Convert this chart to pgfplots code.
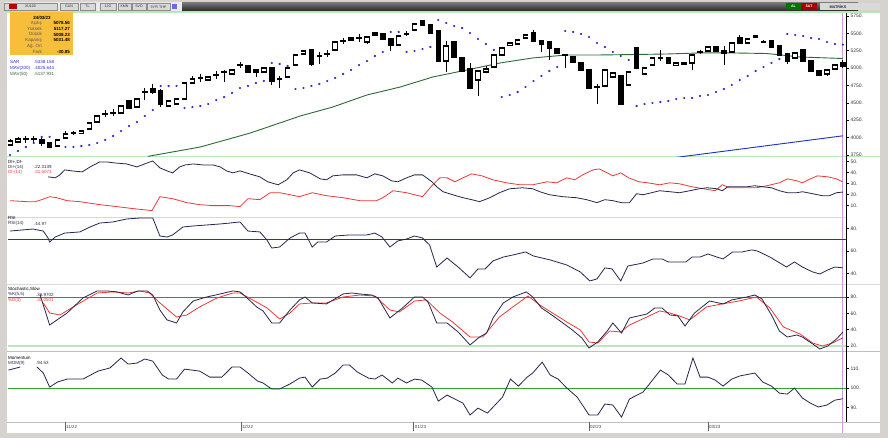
\documentclass[border=0pt]{standalone}
\usepackage{pgfplots}
\usepackage{pgfplotstable}
\pgfplotsset{compat=1.18}
\usepackage{fontspec}
\setmainfont{Liberation Sans}

\definecolor{navy}{HTML}{262650}
\definecolor{dired}{HTML}{E83A3A}
\definecolor{sarblue}{HTML}{2B2BD0}
\definecolor{magreen}{HTML}{2F6A35}
\definecolor{mablue}{HTML}{1F2FC8}
\definecolor{frame}{HTML}{D6D3CE}
\definecolor{sepgreen}{HTML}{BDE8BD}
\definecolor{cursor}{HTML}{C9A0DC}
\definecolor{infobox}{HTML}{F6BE3A}
\definecolor{lvlred}{HTML}{8C1C1C}
\definecolor{stred}{HTML}{C04848}
\definecolor{momgreen}{HTML}{35A035}

% daily candles, bar index 0..105 (24/03/23 = 105)
\pgfplotstableread{
i o h l c
0 3894 3980 3879 3951
1 3937 4009 3922 3980
2 3975 4023 3922 3985
3 3985 4023 3922 3975
4 3966 4009 3879 3922
5 3922 3937 3850 3865
6 3879 3980 3865 3966
7 3994 4095 3980 4052
8 4060 4095 4040 4070
9 4066 4109 4052 4095
10 4124 4225 4109 4210
11 4225 4325 4210 4311
12 4335 4397 4297 4345
13 4350 4411 4311 4358
14 4354 4470 4340 4455
15 4527 4541 4411 4426
16 4440 4570 4426 4555
17 4650 4714 4541 4662
18 4699 4771 4627 4656
19 4671 4699 4440 4483
20 4455 4541 4440 4527
21 4483 4570 4469 4555
22 4555 4800 4541 4786
23 4786 4887 4771 4843
24 4852 4915 4800 4864
25 4829 4887 4815 4872
26 4895 4958 4843 4907
27 4940 4973 4800 4948
28 4915 4987 4901 4973
29 5040 5088 5002 5050
30 5030 5045 4930 4944
31 4973 4987 4872 4944
32 4944 5016 4930 5002
33 5002 5016 4757 4815
34 4838 4887 4714 4848
35 4872 5016 4858 5002
36 5045 5203 5030 5189
37 5203 5261 5189 5246
38 5261 5275 5030 5059
39 5170 5232 5059 5178
40 5200 5261 5160 5206
41 5261 5390 5246 5376
42 5385 5433 5347 5395
43 5433 5448 5390 5405
44 5438 5491 5376 5428
45 5376 5462 5347 5448
46 5505 5520 5462 5477
47 5491 5505 5405 5419
48 5419 5433 5246 5333
49 5333 5477 5318 5462
50 5486 5534 5462 5496
51 5548 5650 5534 5635
52 5678 5692 5605 5620
53 5620 5635 5491 5505
54 5534 5548 5088 5102
55 5102 5390 4944 5318
56 5376 5390 5146 5160
57 5146 5160 4944 4958
58 4987 5074 4699 4714
59 4829 4973 4599 4958
60 4944 5030 4930 4987
61 5016 5203 5002 5189
62 5189 5304 5174 5289
63 5333 5376 5318 5361
64 5347 5419 5333 5405
65 5433 5491 5419 5477
66 5505 5548 5376 5390
67 5390 5405 5232 5347
68 5376 5390 5117 5289
69 5275 5289 5203 5218
70 5195 5203 5002 5185
71 5160 5174 5074 5088
72 5074 5088 4958 4973
73 4973 4987 4699 4714
74 4735 4771 4483 4728
75 4743 4987 4728 4973
76 4872 4944 4858 4930
77 4887 4901 4469 4483
78 4757 4958 4743 4944
79 5289 5304 4987 5002
80 4915 5016 4901 5002
81 5045 5160 5030 5146
82 5140 5261 5102 5150
83 5146 5160 5059 5074
84 5045 5088 5030 5074
85 5059 5088 5045 5074
86 5074 5203 4973 5189
87 5225 5261 5210 5235
88 5246 5318 5232 5304
89 5304 5318 5232 5246
90 5246 5318 5045 5218
91 5232 5376 5218 5361
92 5433 5477 5347 5361
93 5361 5433 5347 5419
94 5460 5477 5433 5448
95 5385 5405 5361 5370
96 5390 5405 5289 5304
97 5318 5333 5174 5189
98 5203 5218 5059 5102
99 5146 5232 5131 5218
100 5261 5275 5088 5102
101 5102 5117 4944 4958
102 4958 4973 4887 4901
103 4915 4987 4887 4973
104 4987 5059 4973 5045
105 5078.56 5117.27 5008.23 5031.48
}\candles

% parabolic SAR
\pgfplotstableread{
i s
0 3750
1 3807
2 3865
3 3922
4 4010
5 4010
7 3865
8 3865
9 3879
10 3894
11 3922
12 3966
13 4023
14 4095
15 4167
16 4225
17 4311
18 4397
19 4743
20 4743
21 4743
22 4426
23 4440
24 4455
25 4483
26 4541
27 4584
28 4642
29 4714
30 4743
31 4786
32 4815
33 5074
34 5059
35 5030
36 4699
37 4714
38 4743
39 4771
40 4815
41 4858
42 4915
43 4973
44 5045
45 5102
46 5174
47 5232
48 5520
49 5520
50 5232
51 5246
52 5275
53 5304
54 5692
55 5649
56 5606
57 5577
58 5505
59 5419
60 5347
61 5261
62 4584
63 4613
64 4656
65 4728
66 4815
67 4887
68 4958
69 5016
70 5534
71 5520
72 5491
73 5448
74 5361
75 5304
76 5232
77 5174
78 5117
79 4455
80 4483
81 4498
82 4512
83 4527
84 4555
85 4570
86 4570
87 4599
88 4613
89 4656
90 4699
91 4757
92 4829
93 4887
94 4958
95 5016
96 5074
97 5131
98 5491
99 5477
100 5462
101 5433
102 5419
103 5376
104 5347
105 5338.158
}\sar

\pgfplotsset{
  panel/.style={
    scale only axis, width=838bp, anchor=south west,
    xmin=-0.25, xmax=105.4,
    axis x line=none, axis y line*=right,
    y axis line style={black, line width=0.5bp},
    ytick style={black, line width=0.5bp},
    tick align=outside, major tick length=2.5bp,
    /pgf/number format/fixed, /pgf/number format/precision=0,
    /pgf/number format/1000 sep={}, /pgf/number format/assume math mode=true,
    yticklabel={\pgfmathprintnumber{\tick}.},
    yticklabel style={font=\fontsize{5}{6}\selectfont, text=black!80, xshift=-1.5bp},
  },
  ln/.style={line width=0.8bp},
}

\begin{document}
\begin{tikzpicture}[x=1bp, y=1bp, font=\fontsize{4.5}{5}\selectfont]
% window frame
\fill[frame] (0,0) rectangle (888,438);
\fill[white] (7,5) rectangle (880,426);
% toolbar
\shade[top color=black!55, bottom color=black!85] (182,427) rectangle (858,435);
\fill[white!92!black] (4,427) rectangle (182,436);
\foreach \xa/\xb/\t in {4/57/XU100, 60/78/GUN, 80/95/TL, 100/116/12G, 118/131/KMN, 132/146/SVD, 147/170/3YF{\.I} THP}
  \draw[black!45, fill=white!85!black] (\xa,428) rectangle (\xb,435) node[midway, black!80, font=\fontsize{3.6}{4}\selectfont] {\t};
\fill[red!75!black] (9,429) rectangle (17,434);
\fill[sarblue!70] (172,429) rectangle (177,434);
\fill[green!45!black] (786,428) rectangle (801,435) node[midway, white, font=\bfseries\fontsize{3.6}{4}\selectfont] {AL};
\fill[red!65!black] (801,428) rectangle (817,435) node[midway, white, font=\bfseries\fontsize{3.6}{4}\selectfont] {SAT};
\fill[white!85!black] (820,428) rectangle (880,435);
\node[font=\bfseries\fontsize{3.8}{4}\selectfont, navy] at (838,431.5) {MATRİKS};
% panel separators
\draw[sepgreen, line width=1bp] (7,425) -- (880,425);
\draw[sepgreen, line width=1bp] (7,281.5) -- (880,281.5);
\draw[black!15, line width=0.6bp] (7,221) -- (846,221);
\draw[black!15, line width=0.6bp] (7,154) -- (880,154);
\draw[black!25, line width=0.6bp] (7,87) -- (880,87);
\draw[black!25, line width=0.6bp] (7,16) -- (880,16);
% cursor
\draw[cursor, line width=1.1bp] (842.8,5) -- (842.8,425);

% ---------------- price panel
\begin{axis}[panel, at={(8bp,281bp)}, height=144bp,
  ymin=3721, ymax=5793, ytick={3750,4000,...,5750}]
\addplot[mablue, line width=0.9bp] coordinates {(84,3715) (94.5,3870) (105,4025.6)};
\addplot[magreen, line width=0.9bp] coordinates {
(17.4,3730) (24,3865) (30.3,4066) (36.6,4311) (40.7,4440) (45,4613) (49.2,4728)
(53.3,4872) (57.6,4973) (61.8,5074) (65.9,5146) (70.2,5189) (74.4,5189)
(78.5,5195) (82.8,5203) (87,5218) (91.1,5218) (95.4,5210) (99.6,5160) (105,5137.9)};
\addplot[black, line width=0.7bp, quiver={u=0, v=\thisrow{h}-\thisrow{l}}]
  table[x=i, y=l] {\candles};
\addplot[black, line width=5.6bp, quiver={u=0, v={abs(\thisrow{c}-\thisrow{o})+20}}]
  table[x=i, y expr={min(\thisrow{o},\thisrow{c})-10}] {\candles};
\addplot[white, line width=4bp, quiver={u=0, v={max(\thisrow{c}-\thisrow{o}-20,0)}},
  x filter/.expression={\thisrow{c}>\thisrow{o} ? x : nan}]
  table[x=i, y expr={\thisrow{o}+10}] {\candles};
\addplot[only marks, mark=*, mark size=0.9bp, sarblue, mark options={draw=none}]
  table[x=i, y=s] {\sar};
\end{axis}

% ---------------- DI+ / DI-
\begin{axis}[panel, at={(8bp,221bp)}, height=60bp,
  ymin=-0.3, ymax=54.1, ytick={10,20,...,50}]
\addplot[dired, ln] coordinates {
(0,14.5) (2.1,13.6) (3.2,13.6) (4.0,15.4) (5.0,18.1) (5.9,17.2) (7.2,14.5) (8.8,13.6)
(11.3,10.9) (13.5,9.1) (15.5,7.3) (17.9,5.5) (18.9,18.1) (20.5,16.3) (22.3,12.7)
(23.9,10.9) (25.6,10.0) (27.7,10.0) (29.0,9.1) (30.0,16.3) (31.5,15.4) (32.8,21.7)
(34.0,21.7) (35.3,19.9) (36.5,18.1) (38.1,21.7) (39.9,19.0) (42.0,17.2) (44.1,14.5)
(46.2,14.5) (47.0,17.2) (48.3,23.5) (50.0,21.7) (52.0,18.1) (53.3,28.9) (54.2,35.2)
(55.1,35.2) (56.1,31.6) (57.1,35.2) (58.2,38.8) (59.5,37.0) (60.9,33.4) (62.6,30.7)
(64.3,28.9) (65.9,28.9) (67.7,31.6) (68.9,30.7) (70.2,35.2) (71.2,33.4) (72.2,37.9)
(73.5,42.4) (74.3,43.3) (75.3,39.7) (76.0,37.0) (77.0,39.7) (78.0,35.2) (79.3,31.6)
(80.4,30.7) (81.9,28.9) (83.2,30.7) (84.4,29.8) (86.0,27.1) (87.4,25.3) (88.9,23.5)
(89.8,28.9) (90.7,26.2) (92.3,26.2) (94.1,26.2) (95.4,28.0) (97.0,30.7) (98.0,34.3)
(99.2,32.5) (99.9,30.7) (100.9,34.3) (101.8,37.0) (103.1,36.1) (104.2,34.3) (105,31.5)};
\addplot[navy, ln] coordinates {
(4.8,36.1) (5.7,35.2) (6.3,37.9) (6.9,42.4) (7.8,41.5) (9.1,40.6) (10.1,45.1)
(11.3,49.6) (12.2,49.6) (13.2,48.7) (14.7,47.8) (16.0,45.1) (17.3,48.7) (18.0,50.5)
(18.9,44.2) (19.8,41.5) (20.5,39.7) (21.4,45.1) (22.1,46.9) (23.1,47.8) (24.3,46.9)
(25.6,46.9) (26.5,45.1) (27.3,41.5) (28.1,39.7) (29.0,41.5) (30.2,38.8) (31.5,36.1)
(32.5,31.6) (33.8,28.9) (34.9,33.4) (35.7,39.7) (36.5,42.4) (37.8,39.7) (39.1,34.3)
(39.9,33.4) (40.7,37.0) (42.0,37.9) (43.7,37.9) (45.0,35.2) (46.0,38.8) (47.0,37.0)
(48.1,32.5) (48.9,31.6) (50.0,35.2) (51.0,37.9) (52.0,37.9) (53.2,31.6) (53.8,27.1)
(54.6,22.6) (55.8,19.9) (57.1,17.2) (58.2,15.4) (59.2,13.6) (60.5,17.2) (61.7,21.7)
(63.0,25.3) (64.6,26.2) (65.9,25.3) (66.8,22.6) (68.0,19.9) (69.7,18.1) (71.4,17.2)
(72.7,15.4) (74.0,12.7) (75.0,15.4) (76.0,14.5) (77.1,12.7) (78.1,12.7) (79.0,20.8)
(79.8,19.9) (80.9,21.7) (81.9,23.5) (83.2,22.6) (84.4,21.7) (85.7,23.5) (86.9,25.3)
(87.9,26.2) (89.1,25.3) (89.8,23.5) (90.5,27.1) (91.6,27.1) (92.9,27.1) (93.9,28.0)
(94.9,27.1) (96.0,26.2) (97.0,23.5) (98.0,21.7) (99.2,21.7) (99.9,22.6) (101.2,20.8)
(102.4,19.0) (103.3,19.0) (104.2,21.7) (105,22.3)};
\end{axis}

% ---------------- RSI
\begin{axis}[panel, at={(8bp,154bp)}, height=67bp,
  ymin=30.6, ymax=90.2, ytick={40,60,80}]
\addplot[lvlred, line width=0.8bp] coordinates {(-0.25,70) (105.4,70)};
\addplot[navy, ln] coordinates {
(0,77.7) (2.9,79.5) (4.2,77.7) (4.8,71.5) (5.0,67.9) (5.7,72.4) (6.9,75.9) (8.8,76.9)
(10.1,81.3) (11.3,84.8) (13.0,85.8) (14.7,88.4) (16.4,89.3) (18.0,89.3) (18.9,73.3)
(19.8,72.4) (20.5,74.2) (21.8,81.3) (23.1,82.2) (24.8,83.1) (26.5,84.0) (27.7,84.8)
(29.0,85.8) (30.0,77.7) (31.5,76.9) (32.4,69.7) (33.0,62.6) (34.0,63.5) (35.3,71.5)
(36.5,75.9) (37.2,75.9) (38.1,63.5) (38.8,67.9) (39.9,67.9) (41.0,73.3) (42.8,74.2)
(45.0,74.2) (46.0,75.9) (46.9,72.4) (47.9,63.5) (48.9,68.9) (50.0,70.6) (51.0,73.3)
(52.0,71.5) (52.9,65.3) (53.8,45.7) (55.1,53.7) (56.5,45.7) (58.0,36.0) (59.0,44.0)
(59.9,44.0) (60.9,51.1) (62.2,54.6) (63.4,56.4) (65.0,59.1) (66.0,55.5) (68.1,52.0)
(70.2,47.5) (71.9,41.3) (73.1,33.3) (74.0,35.1) (75.0,44.9) (75.9,44.0) (77.0,33.3)
(77.9,46.6) (79.2,48.4) (79.8,49.3) (81.1,52.9) (82.2,52.9) (83.0,50.2) (85.2,50.2)
(86.0,54.6) (87.0,54.6) (88.0,57.3) (89.1,54.6) (89.9,52.9) (91.1,59.1) (92.3,59.1)
(93.5,60.9) (94.2,60.0) (95.8,54.6) (97.9,45.7) (98.9,50.2) (99.9,45.7) (101.2,41.3)
(102.1,39.5) (103.1,43.1) (104.0,45.7) (105,44.97)};
\end{axis}

% ---------------- Stochastic slow
\begin{axis}[panel, at={(8bp,87bp)}, height=67bp,
  ymin=13.9, ymax=95.9, ytick={20,40,60,80}]
\addplot[sepgreen, line width=1.6bp] coordinates {(-0.25,20) (105.4,20)};
\addplot[stred, line width=0.8bp] coordinates {(-0.25,80) (105.4,80)};
\addplot[dired, ln] coordinates {
(4.2,72.7) (5.0,60.4) (6.3,58.0) (8.8,72.7) (11.0,84.9) (13.0,86.2) (14.9,84.9)
(16.4,87.4) (17.6,84.9) (18.9,72.7) (21.0,55.5) (22.3,58.0) (23.9,67.8) (26.1,78.8)
(28.1,84.9) (29.0,84.9) (30.6,76.4) (32.4,66.6) (34.0,53.1) (35.3,60.4) (36.5,71.5)
(38.1,72.7) (39.9,72.7) (42.0,80.0) (44.1,82.4) (46.0,81.2) (47.9,64.1) (49.1,61.7)
(51.0,75.1) (52.5,76.4) (54.2,60.4) (55.8,49.4) (58.0,31.0) (59.6,31.0) (61.7,55.5)
(63.4,67.8) (65.3,81.2) (66.8,70.2) (68.4,60.4) (70.2,49.4) (71.9,39.6) (73.0,24.9)
(74.1,23.7) (75.6,38.4) (77.0,37.2) (78.1,45.7) (80.3,55.5) (81.9,62.9) (83.2,60.4)
(84.4,56.8) (85.7,51.9) (87.8,67.8) (89.8,71.5) (91.9,75.1) (94.1,80.0) (95.8,66.6)
(97.5,43.3) (99.6,34.7) (101.2,23.7) (102.4,20.0) (103.7,23.7) (105,30.05)};
\addplot[navy, ln] coordinates {
(3.8,82.4) (5.0,45.7) (7.2,60.4) (9.2,78.8) (11.0,87.4) (12.2,87.4) (13.5,86.2)
(14.9,82.4) (16.1,87.4) (17.3,87.4) (18.0,82.4) (18.9,64.1) (19.8,51.9) (21.0,48.2)
(21.8,61.7) (23.1,75.1) (24.8,80.0) (26.5,83.7) (28.1,87.4) (29.0,86.2) (29.9,78.8)
(31.1,67.8) (31.9,62.9) (33.0,48.2) (34.0,48.2) (35.3,64.1) (36.5,76.4) (37.2,80.0)
(38.1,72.7) (39.9,71.5) (42.0,83.7) (43.1,84.9) (44.1,83.7) (45.6,82.4) (46.4,78.8)
(47.9,54.3) (49.5,66.6) (51.0,80.0) (52.0,80.0) (52.7,73.9) (53.8,48.2) (55.1,48.2)
(56.5,37.2) (58.0,21.3) (59.2,31.0) (60.1,35.9) (60.9,54.3) (62.2,72.7) (63.4,80.0)
(65.1,86.2) (65.9,80.0) (67.0,66.6) (68.3,58.0) (69.7,48.2) (70.9,39.6) (72.1,29.8)
(73.0,17.6) (74.1,24.9) (75.3,38.4) (76.0,48.2) (77.1,35.9) (78.1,54.3) (80.3,59.2)
(81.3,66.6) (82.2,66.6) (83.2,58.0) (84.2,56.8) (85.1,44.5) (86.3,60.4) (88.2,75.1)
(89.9,71.5) (91.0,76.4) (92.9,80.0) (93.9,82.4) (94.8,77.6) (96.0,58.0) (97.0,38.4)
(98.0,31.0) (99.2,33.5) (99.9,31.0) (101.2,22.5) (102.1,16.4) (103.1,20.0)
(104.2,28.6) (105,36.97)};
\end{axis}

% ---------------- Momentum
\begin{axis}[panel, at={(8bp,16bp)}, height=71bp,
  ymin=82.6, ymax=119.0, ytick={90,100,110}]
\addplot[momgreen, line width=0.8bp] coordinates {(-0.25,100) (105.4,100)};
\addplot[navy, ln] coordinates {(-0.2,109.2) (1.3,110.8)};
\addplot[navy, ln] coordinates {
(3.4,110.8) (4.2,107.7) (5.0,100.5) (6.0,103.1) (7.2,104.6)
(9.2,104.6) (11.1,108.7) (12.6,110.3) (14.0,115.4) (14.9,112.3) (16.0,112.8)
(17.0,114.9) (18.0,113.8) (19.2,106.7) (20.0,104.6) (21.0,104.6) (22.0,109.7)
(23.9,108.7) (25.2,105.6) (26.7,105.6) (28.0,110.8) (29.0,110.8) (30.0,107.7)
(31.2,103.6) (31.9,102.6) (33.0,99.5) (34.0,99.5) (35.3,102.1) (36.5,105.1)
(37.2,105.6) (38.1,100.5) (39.1,104.6) (40.0,105.1) (41.0,107.7) (42.0,111.8)
(42.8,111.8) (43.8,108.2) (45.2,105.1) (46.0,104.6) (46.9,106.7) (48.2,102.6)
(48.9,105.1) (50.0,102.6) (51.0,104.6) (51.9,104.1) (53.2,100.5) (54.0,93.3)
(55.1,96.4) (57.1,92.3) (58.0,86.2) (59.0,89.7) (60.2,87.2) (62.1,95.4) (63.1,104.6)
(64.1,101.0) (65.2,105.6) (65.9,107.7) (67.1,113.3) (68.1,106.7) (69.1,104.6)
(70.2,100.0) (71.5,95.4) (73.0,86.2) (74.1,86.2) (75.0,91.8) (76.0,91.3) (77.1,85.1)
(78.1,94.4) (79.8,97.9) (82.0,109.2) (83.0,106.7) (84.1,102.1) (85.1,102.1)
(86.1,115.4) (87.0,105.6) (88.0,105.6) (88.9,104.1) (89.9,101.0) (91.0,104.6)
(92.0,106.2) (93.9,107.7) (94.9,103.1) (96.0,101.0) (97.0,97.4) (98.0,96.9)
(98.9,100.0) (99.9,94.9) (100.9,92.3) (101.9,90.3) (103.0,91.3) (104.0,93.8)
(105,94.53)};
% month starts
\coordinate (m1) at (axis cs:6.93,82.6);
\coordinate (m2) at (axis cs:29.1,82.6);
\coordinate (m3) at (axis cs:50.9,82.6);
\coordinate (m4) at (axis cs:73.0,82.6);
\coordinate (m5) at (axis cs:88.0,82.6);
\end{axis}
\foreach \m/\t in {m1/11\slash 22, m2/12\slash 22, m3/01\slash 23, m4/02\slash 23, m5/03\slash 23} {
  \draw[black!60, line width=0.5bp] (\m) -- ++(0,-9);
  \node[anchor=west, inner sep=0pt, text=black!75] at ([xshift=1bp, yshift=-5bp]\m) {\t};
}

% ---------------- info box and legends
\fill[infobox] (10,383) rectangle (73,426);
\node[font=\bfseries\fontsize{4.5}{5}\selectfont] at (42,420.5) {24/03/23};
\foreach \lab/\val [count=\k] in {Açılış/5078.56, Yüksek/5117.27, Düşük/5008.23, Kapanış/5031.48, Ağ. Ort/{}, Fark/-30.85} {
  \node[anchor=east, inner sep=0pt, text=black!65] at (42,420.5-5.7*\k) {\lab};
  \node[anchor=east, inner sep=0pt, font=\bfseries\fontsize{4.5}{5}\selectfont] at (70,420.5-5.7*\k) {\val};
}
\node[anchor=west, inner sep=0pt, sarblue] at (10,376) {SAR};
\node[anchor=west, inner sep=0pt, sarblue] at (34,376) {.5338.158};
\node[anchor=west, inner sep=0pt, sarblue] at (10,370) {MAV(200)};
\node[anchor=west, inner sep=0pt, sarblue] at (34,370) {.4025.644};
\node[anchor=west, inner sep=0pt, magreen] at (10,364) {MAV(50)};
\node[anchor=west, inner sep=0pt, magreen] at (34,364) {.5137.931};

\node[anchor=west, inner sep=0pt] at (8,276) {DI+,DI-};
\node[anchor=west, inner sep=0pt, navy] at (8,271) {DI+(14)};
\node[anchor=west, inner sep=0pt, navy] at (34,271) {.22.3139};
\node[anchor=west, inner sep=0pt, dired] at (8,266) {DI-(14)};
\node[anchor=west, inner sep=0pt, dired] at (34,266) {.31.5071};

\node[anchor=west, inner sep=0pt] at (8,220) {RSI};
\node[anchor=west, inner sep=0pt, navy] at (8,214.5) {RSI(14)};
\node[anchor=west, inner sep=0pt, navy] at (34,214.5) {.44.97};

\node[anchor=west, inner sep=0pt] at (8,149) {Stochastic,Slow};
\node[anchor=west, inner sep=0pt, navy] at (8,143.5) {\%K(5,5)};
\node[anchor=west, inner sep=0pt, navy] at (36,143.5) {.36.9702};
\node[anchor=west, inner sep=0pt, dired] at (8,138) {\%D(3)};
\node[anchor=west, inner sep=0pt, dired] at (36,138) {.30.0501};

\node[anchor=west, inner sep=0pt] at (8,80) {Momentum};
\node[anchor=west, inner sep=0pt, navy] at (8,75) {MOM(9)};
\node[anchor=west, inner sep=0pt, navy] at (36,75) {.94.53};
\end{tikzpicture}
\end{document}
